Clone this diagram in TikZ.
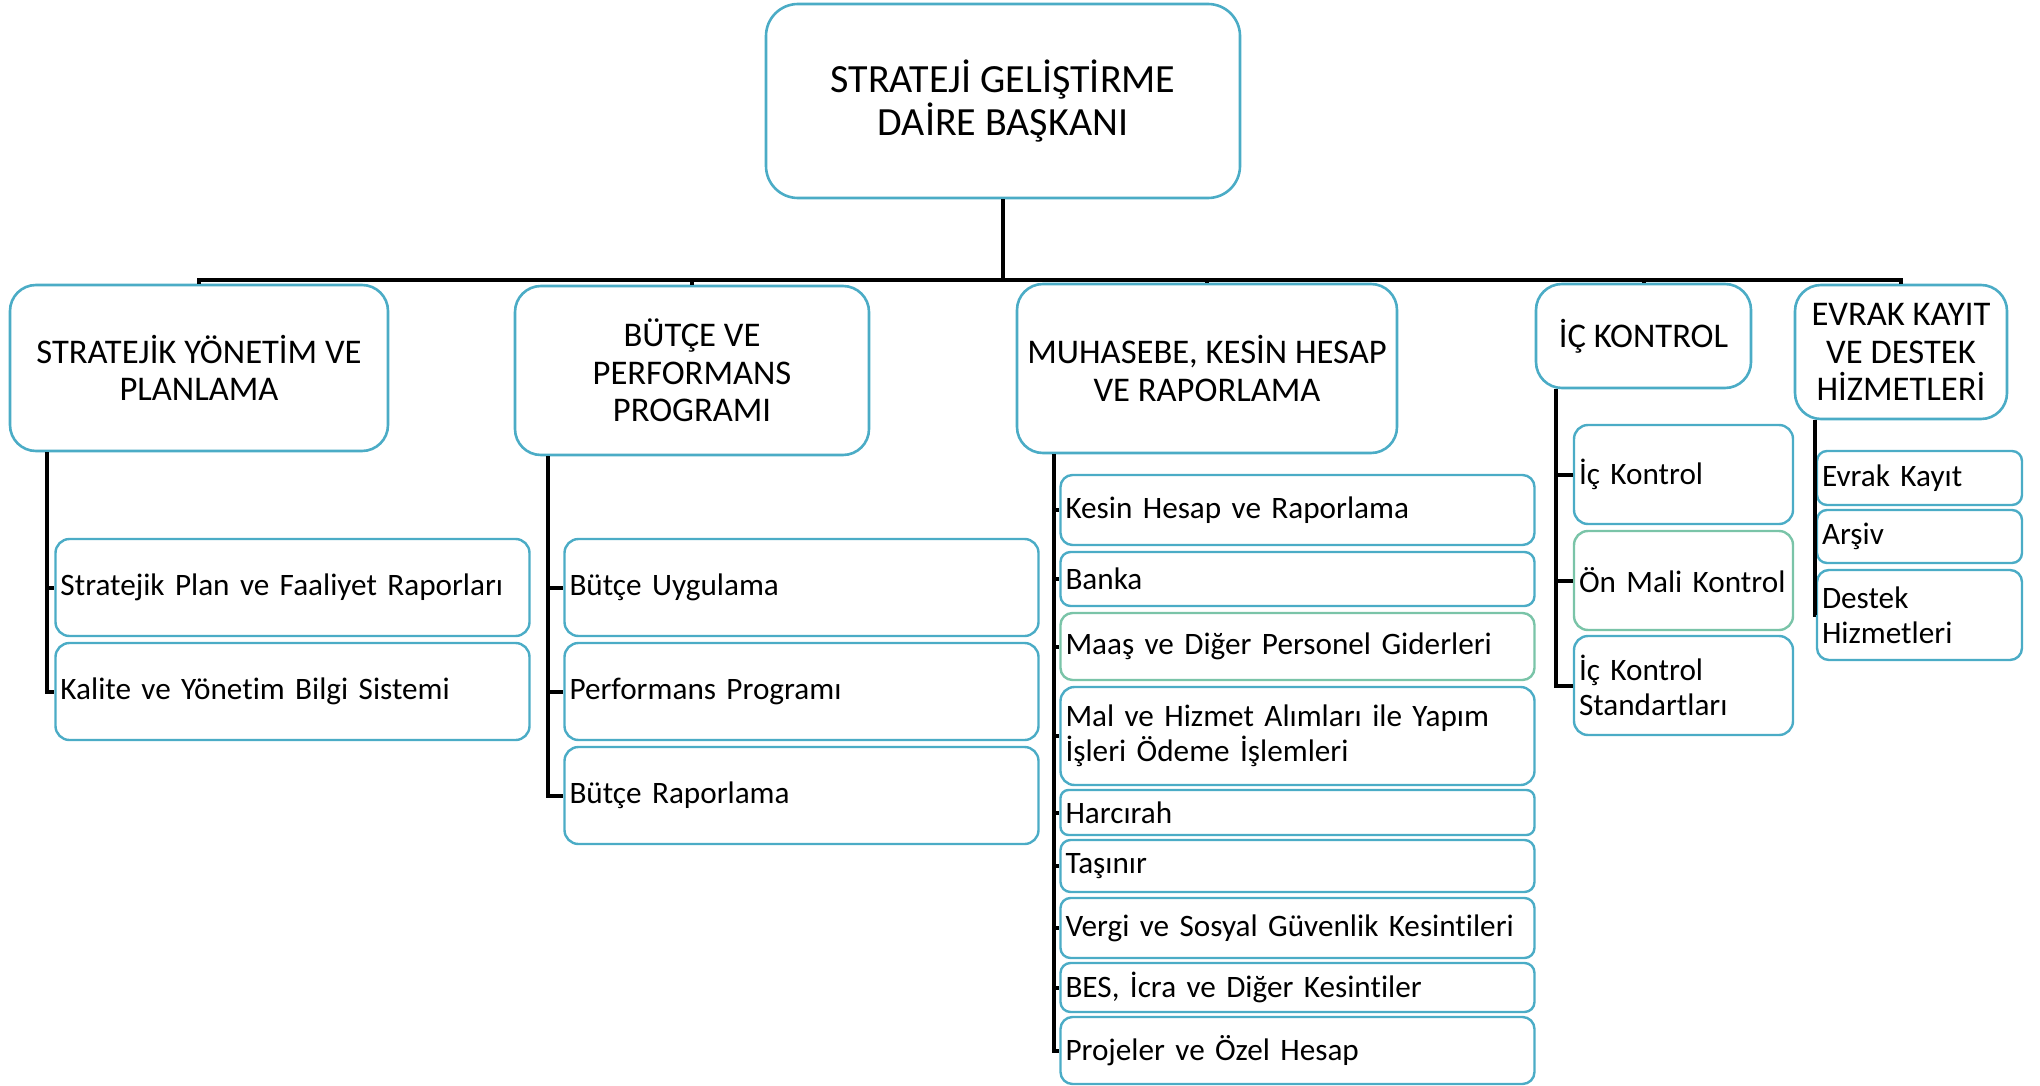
\documentclass[tikz,border=0pt]{standalone}
\usepackage{fontspec}
\setmainfont{Carlito}[Ligatures=NoCommon]
\usepackage{color}
\newcommand{\tasktext}{\fontsize{15.6}{17.6}\selectfont\hyphenpenalty=10000\relax}

\begin{document}
\begin{tikzpicture}[x=0.5pt,y=-0.5pt]
	\definecolor{boxteal}{RGB}{75,172,198}
	\definecolor{boxgreen}{RGB}{122,196,168}
	\tikzset{
		conn/.style={line width=2pt},
		chief/.style={draw=boxteal, line width=1.3pt, fill=white, rounded corners=16pt, align=center, font=\fontsize{20}{21.5}\selectfont},
		unit/.style={draw=boxteal, line width=1.3pt, fill=white, rounded corners=13pt, align=center, font=\fontsize{17.3}{18.7}\selectfont},
		task/.style={draw=boxteal, line width=1.2pt, fill=white, rounded corners=7pt, align=left, inner xsep=2.5pt, inner ysep=0pt, font=\tasktext},
		wide/.style={task, text width=232pt},
		slim/.style={task, text width=104.5pt},
		tiny/.style={task, text width=97.5pt, rounded corners=6pt}
	}
	\useasboundingbox (0,0) rectangle (2040,1086);
	
	\node[chief, minimum width=237pt, minimum height=97pt] (top) at (1003,101) {STRATEJİ GELİŞTİRME\\DAİRE BAŞKANI};
	
	\node[unit, minimum width=189pt, minimum height=83pt] (sy) at (199,368) {STRATEJİK YÖNETİM VE\\PLANLAMA};
	\node[unit, minimum width=177pt, minimum height=84.5pt] (bp) at (692,370.5) {BÜTÇE VE\\PERFORMANS\\PROGRAMI};
	\node[unit, minimum width=190pt, minimum height=84.5pt] (mk) at (1207,368.5) {MUHASEBE, KESİN HESAP\\VE RAPORLAMA};
	\node[unit, minimum width=107.5pt, minimum height=52pt] (ik) at (1643.5,336) {İÇ KONTROL};
	\node[unit, minimum width=106pt, minimum height=67pt] (ev) at (1901,352) {EVRAK KAYIT\\VE DESTEK\\HİZMETLERİ};
	
	\node[wide, minimum height=48.5pt] (sy1) at (292.5,587.5) {Stratejik Plan ve Faaliyet Raporları};
	\node[wide, minimum height=48.5pt] (sy2) at (292.5,691.5) {Kalite ve Yönetim Bilgi Sistemi};
	
	\node[wide, minimum height=48.5pt] (bp1) at (801.5,587.5) {Bütçe Uygulama};
	\node[wide, minimum height=48.5pt] (bp2) at (801.5,691.5) {Performans Programı};
	\node[wide, minimum height=48.5pt] (bp3) at (801.5,795.5) {Bütçe Raporlama};
	
	\node[wide, rounded corners=6pt, minimum height=35pt] (mk1) at (1297.5,510) {Kesin Hesap ve Raporlama};
	\node[wide, rounded corners=5pt, minimum height=27pt] (mk2) at (1297.5,579) {Banka};
	\node[wide, rounded corners=6pt, draw=boxgreen, minimum height=33.5pt] (mk3) at (1297.5,646.5) {Maaş ve Diğer Personel Giderleri};
	\node[wide, minimum height=49pt] (mk4) at (1297.5,736) {Mal ve Hizmet Alımları ile Yapım\\İşleri Ödeme İşlemleri};
	\node[wide, rounded corners=4pt, minimum height=22.5pt] (mk5) at (1297.5,812.5) {Harcırah};
	\node[wide, rounded corners=5pt, minimum height=26pt] (mk6) at (1297.5,866) {Taşınır};
	\node[wide, rounded corners=5pt, minimum height=30pt] (mk7) at (1297.5,928) {Vergi ve Sosyal Güvenlik Kesintileri};
	\node[wide, rounded corners=5pt, minimum height=24.5pt] (mk8) at (1297.5,987.5) {BES, İcra ve Diğer Kesintiler};
	\node[wide, rounded corners=6pt, minimum height=33.5pt] (mk9) at (1297.5,1050.5) {Projeler ve Özel Hesap};
	
	\node[slim, minimum height=49.5pt] (ik1) at (1683.5,474.5) {İç Kontrol};
	\node[slim, draw=boxgreen, minimum height=49.5pt] (ik2) at (1683.5,580.5) {Ön Mali Kontrol};
	\node[slim, minimum height=49.5pt] (ik3) at (1683.5,685.5) {İç Kontrol\\Standartları};
	
	\node[tiny, rounded corners=5pt, minimum height=27pt] (ev1) at (1919.5,478) {Evrak Kayıt};
	\node[tiny, rounded corners=5pt, minimum height=26.5pt] (ev2) at (1919.5,536.5) {Arşiv};
	\node[tiny, minimum height=45pt] (ev3) at (1919.5,615) {Destek\\Hizmetleri};
	
	\coordinate (bus) at (1003,280);
	\draw[conn] (top.south) -- (bus);
	\draw[conn] (sy.north) |- (bus) -| (ev.north);
	\foreach \u in {bp,mk,ik}
		\draw[conn] (\u.north) -- (\u.north |- bus);
	
	\foreach \u/\d/\n in {sy/3.5/2, bp/7.5/3, mk/2.5/9, ik/8.5/3, ev/0.5/3} {
		\draw[conn] ([xshift=-\d pt]\u\n.west |- \u.south) |- (\u\n.west);
		\foreach \i in {1,...,\n}
			\draw[conn] ([xshift=-\d pt]\u\i.west) -- (\u\i.west);
	}
	
\end{tikzpicture}
\end{document}
